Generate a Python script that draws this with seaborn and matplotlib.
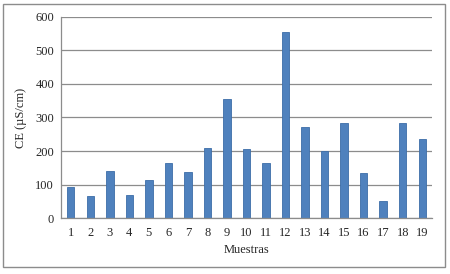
import matplotlib
matplotlib.use("Agg")
import matplotlib.pyplot as plt
import seaborn as sns
import pandas as pd
import numpy as np
from matplotlib.patches import Rectangle

muestras = [str(i) for i in range(1, 20)]
ce_values = [92, 65, 141, 68, 115, 164, 138, 208, 355, 205,
             164, 554, 271, 200, 283, 135, 51, 283, 236]
y_ticks = [0, 100, 200, 300, 400, 500, 600]

df = pd.DataFrame({"Muestras": muestras, "CE": ce_values})

sns.set_style("white")
plt.rcParams["font.family"] = ["Liberation Serif", "DejaVu Serif"]

fig = plt.figure(figsize=(4.5, 2.74), dpi=100)
ax = fig.add_axes([61 / 450, 1 - 218.3 / 274, (432 - 61) / 450, (218.3 - 16.7) / 274])

sns.barplot(data=df, x="Muestras", y="CE", color="#4F81BD", width=0.38,
            edgecolor="#3C6DA8", linewidth=0.6, saturation=1, ax=ax)

ax.set_ylim(0, 600)
ax.set_xlim(-0.5, len(muestras) - 0.5)
ax.set_yticks(y_ticks)
ax.yaxis.grid(True, color="#8c8c8c", linewidth=0.9)
ax.set_axisbelow(True)

# marcas del eje x entre categorías
ax.set_xticks(np.arange(-0.5, len(muestras), 1), minor=True)
ax.tick_params(axis="x", which="major", length=0, labelsize=9, pad=6)
ax.tick_params(axis="x", which="minor", length=3, color="#8c8c8c", width=0.8)
ax.tick_params(axis="y", length=3, color="#8c8c8c", width=0.8, labelsize=9, pad=2)

for side in ["top", "right"]:
    ax.spines[side].set_visible(False)
for side in ["left", "bottom"]:
    ax.spines[side].set_color("#8c8c8c")
    ax.spines[side].set_linewidth(0.9)

ax.set_xlabel("Muestras", fontsize=9, labelpad=4)
ax.set_ylabel("CE (µS/cm)", fontsize=9, labelpad=6)

# marco exterior del gráfico
fig.patches.append(Rectangle((3 / 450, 1 - 267 / 274), 442 / 450, 263 / 274,
                             transform=fig.transFigure, fill=False,
                             edgecolor="#8c8c8c", linewidth=1.0))

fig.savefig("out.png", dpi=100)
